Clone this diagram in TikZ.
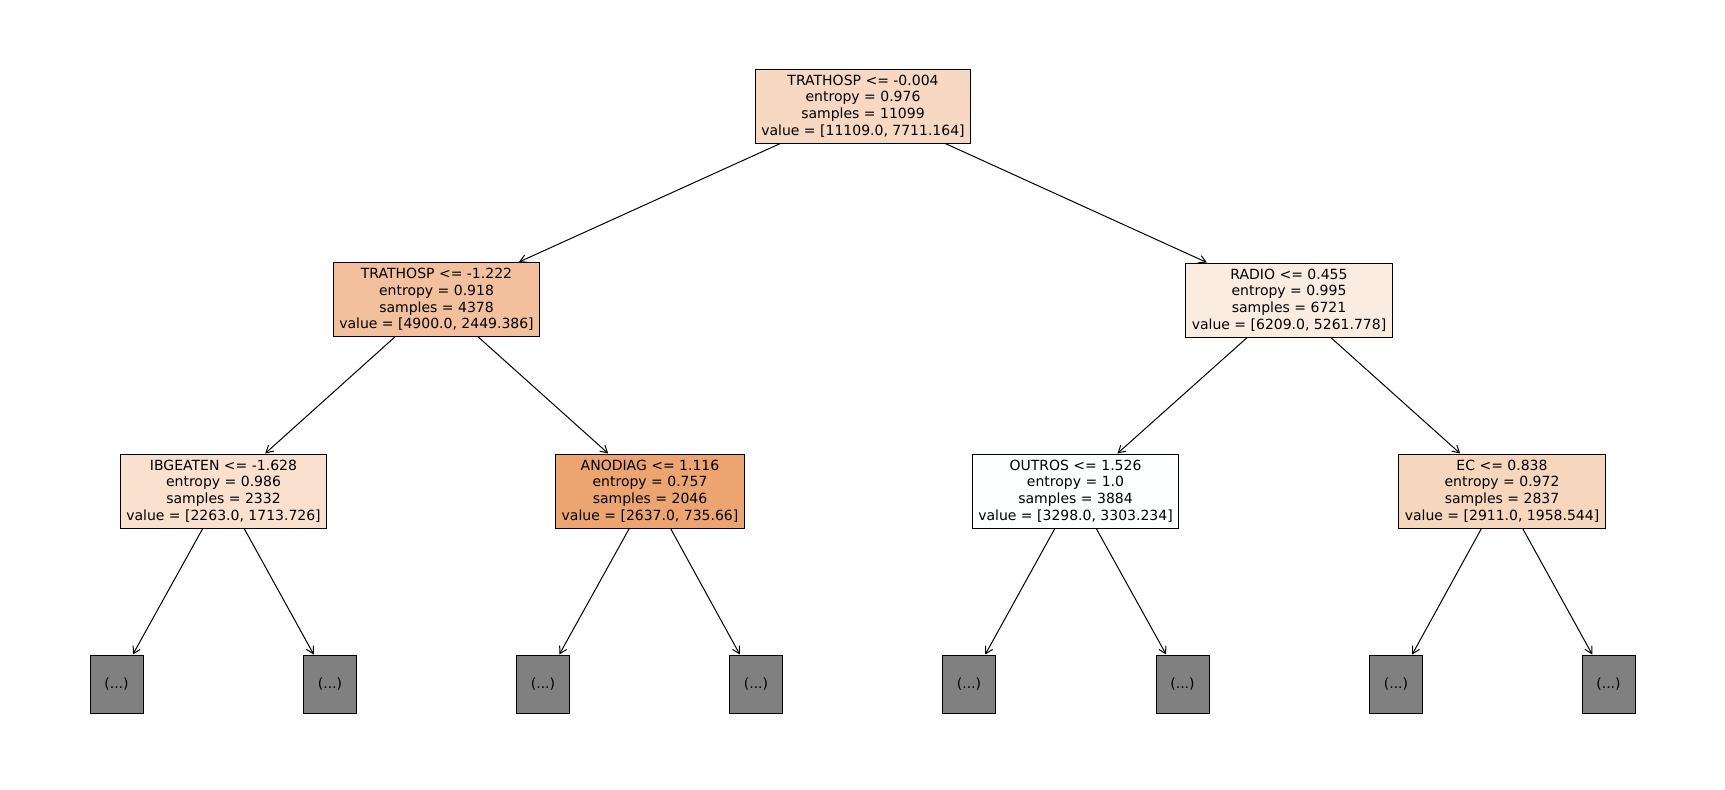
\documentclass[tikz,border=0pt]{standalone}
\usepackage{fontspec}
\setmainfont{DejaVu Sans}
\usetikzlibrary{arrows.meta}
\definecolor{leafgray}{RGB}{128,128,128}
\definecolor{cRoot}{RGB}{247,216,194}
\definecolor{cL}{RGB}{242,192,156}
\definecolor{cR}{RGB}{251,236,225}
\definecolor{cIB}{RGB}{249,224,207}
\definecolor{cAN}{RGB}{236,164,112}
\definecolor{cOU}{RGB}{254,255,255}
\definecolor{cEC}{RGB}{247,214,190}
\begin{document}
\begin{tikzpicture}[x=1pt,y=-1pt,
  tn/.style={draw=black, line width=1pt, align=center,
    font=\fontsize{14}{16.7}\selectfont, inner xsep=6pt, inner ysep=0pt,
    minimum height=74pt},
  lf/.style={draw=black, line width=1pt, fill=leafgray, minimum width=53pt,
    minimum height=58pt, inner sep=0pt, font=\fontsize{14}{16.7}\selectfont},
  edge/.style={-{Straight Barb[length=7pt,width=8pt]}, line width=1pt}]
\useasboundingbox (0,0) rectangle (1725,790);

\node[tn, fill=cRoot] (root) at (863,106) {TRATHOSP <= -0.004\\entropy = 0.976\\samples = 11099\\value = [11109.0, 7711.164]};
\node[tn, fill=cL] (l) at (436.5,299.5) {TRATHOSP <= -1.222\\entropy = 0.918\\samples = 4378\\value = [4900.0, 2449.386]};
\node[tn, fill=cR] (r) at (1289,300) {RADIO <= 0.455\\entropy = 0.995\\samples = 6721\\value = [6209.0, 5261.778]};
\node[tn, fill=cIB] (ll) at (223.5,491) {IBGEATEN <= -1.628\\entropy = 0.986\\samples = 2332\\value = [2263.0, 1713.726]};
\node[tn, fill=cAN] (lr) at (650,491) {ANODIAG <= 1.116\\entropy = 0.757\\samples = 2046\\value = [2637.0, 735.66]};
\node[tn, fill=cOU] (rl) at (1075.5,491) {OUTROS <= 1.526\\entropy = 1.0\\samples = 3884\\value = [3298.0, 3303.234]};
\node[tn, fill=cEC] (rr) at (1502,491) {EC <= 0.838\\entropy = 0.972\\samples = 2837\\value = [2911.0, 1958.544]};

\node[lf] (a1) at (116.5,684) {(...)};
\node[lf] (a2) at (330,684) {(...)};
\node[lf] (a3) at (543,684) {(...)};
\node[lf] (a4) at (756,684) {(...)};
\node[lf] (a5) at (969,684) {(...)};
\node[lf] (a6) at (1182.5,684) {(...)};
\node[lf] (a7) at (1396,684) {(...)};
\node[lf] (a8) at (1608.5,684) {(...)};

\draw[edge] (root) -- (l);
\draw[edge] (root) -- (r);
\draw[edge] (l) -- (ll);
\draw[edge] (l) -- (lr);
\draw[edge] (r) -- (rl);
\draw[edge] (r) -- (rr);
\draw[edge] (ll) -- (a1);
\draw[edge] (ll) -- (a2);
\draw[edge] (lr) -- (a3);
\draw[edge] (lr) -- (a4);
\draw[edge] (rl) -- (a5);
\draw[edge] (rl) -- (a6);
\draw[edge] (rr) -- (a7);
\draw[edge] (rr) -- (a8);
\end{tikzpicture}
\end{document}
